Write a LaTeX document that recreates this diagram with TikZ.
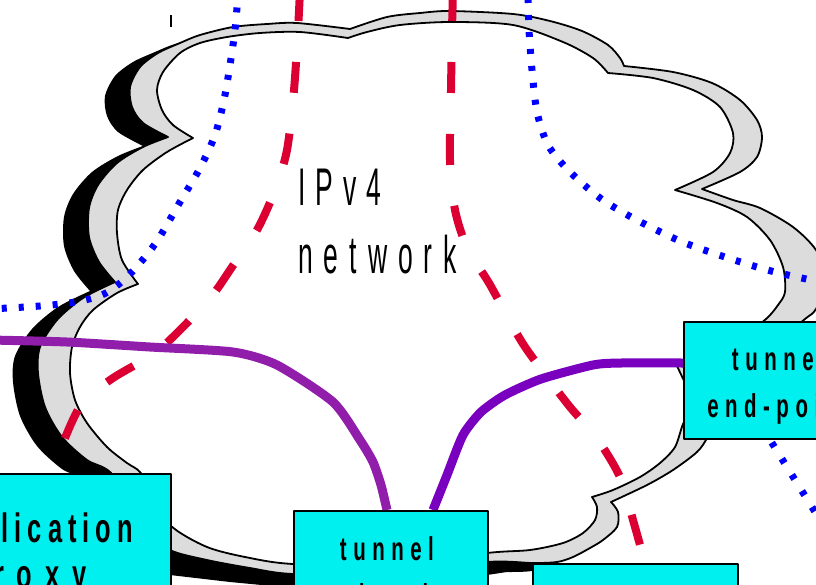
\documentclass[tikz,border=0pt]{standalone}
\usepackage{fontspec}
\setmainfont{Liberation Sans}
\newfontfamily\cloudfont[FakeStretch=0.5]{Liberation Sans}
\newfontfamily\boxfont[FakeStretch=0.62]{Liberation Sans}
\usetikzlibrary{calc}
\definecolor{cyanbox}{RGB}{0,240,240}
\definecolor{cloudgray}{RGB}{220,220,220}
\definecolor{redline}{RGB}{220,0,50}
\definecolor{purpleA}{RGB}{145,30,170}
\definecolor{purpleB}{RGB}{120,0,190}
\makeatletter
\newcommand\spaced[2]{\def\spc@sk{\hskip #1\relax}\spc@loop#2\@nil\unskip}
\def\spc@loop#1{\ifx\@nil#1\else#1\spc@sk\expandafter\spc@loop\fi}
\makeatother
\def\outerpath{plot[smooth] coordinates {(168,137) (143,123) (132,107) (130,87) (140,67) (158,53) (180,43) (200,35) (233,27) (267,24) (297,23) (350,29)}
 -- plot[smooth] coordinates {(350,29) (387,17) (420,13) (450,11) (513,14) (550,21) (582,31) (608,45) (620,58) (624,66)}
 -- plot[smooth] coordinates {(624,66) (673,72) (712,83) (740,100) (757,120) (762,137) (757,157) (740,172) (702,189)}
 -- plot[smooth] coordinates {(702,189) (733,200) (760,208) (793,227) (816,250) (828,280) (816,309) (805,319) (775,343) (740,365) (702,380)}
 -- plot[smooth] coordinates {(702,380) (712,400) (714,420) (707,438) (697,452) (673,470) (647,485) (611,502)}
 -- plot[smooth] coordinates {(611,502) (618,512) (617,527) (603,540) (590,548) (573,557) (557,562) (533,563) (487,562) (390,574) (293,574) (250,568) (207,560) (170,550) (150,530)}
 -- plot[smooth] coordinates {(140,510) (110,472) (87,460) (62,437) (45,407) (38,373) (40,347) (57,320) (83,298) (115,282)}
 -- plot[smooth] coordinates {(115,282) (99,262) (89,237) (89,208) (98,185) (117,163) (143,147) (168,137)} -- cycle}
\def\innerpath{plot[smooth] coordinates {(193,138) (173,125) (162,110) (157,90) (163,72) (180,53) (200,43) (227,37) (260,33) (300,32) (348,38)}
 -- plot[smooth] coordinates {(348,38) (367,32) (400,25) (450,22) (513,25) (563,42) (593,58) (608,73)}
 -- plot[smooth] coordinates {(608,73) (653,78) (693,90) (720,107) (733,133) (730,153) (713,172) (675,190)}
 -- plot[smooth] coordinates {(675,190) (717,203) (747,217) (770,240) (783,267) (785,292) (778,305) (766,319) (740,338) (705,355) (677,366)}
 -- plot[smooth] coordinates {(677,366) (686,385) (694,402) (690,414) (683,424) (675,447) (660,463) (640,477) (613,490) (592,497)}
 -- plot[smooth] coordinates {(592,497) (597,507) (595,520) (583,533) (563,543) (530,550) (487,553) (390,566) (293,564) (250,558) (207,547) (170,525) (155,495)}
 -- plot[smooth] coordinates {(155,495) (140,472) (127,463) (107,447) (87,423) (75,400) (70,373) (72,347) (80,327) (93,310) (117,293) (138,284)}
 -- plot[smooth] coordinates {(138,284) (122,260) (117,233) (118,210) (127,190) (143,170) (167,152) (193,138)} -- cycle}
\begin{document}
\begin{tikzpicture}[x=1pt,y=-1pt,line join=round,
  cbox/.style={draw=black,fill=cyanbox,line width=1.8,rectangle,inner sep=0,anchor=north west},
  boxtext/.style={inner sep=0,anchor=base,font=\boxfont\bfseries\fontsize{33}{36}\selectfont},
  apptext/.style={inner sep=0,anchor=base east,font=\boxfont\bfseries\fontsize{41}{44}\selectfont},
  cloudtext/.style={inner sep=0,anchor=base west,font=\cloudfont\fontsize{53}{60}\selectfont},
  outline/.style={draw=black,line width=1.8},
  bluedots/.style={blue,line width=7,dash pattern=on 5 off 12},
  reddash/.style={redline,line width=8,dash pattern=on 31 off 41},
  pipe/.style={line width=9,line cap=butt}]
\useasboundingbox (0,0) rectangle (816,584);
\clip (0,0) rectangle (816,584);
% cloud: shadow, grey rim, white inside
\fill[black,shift={(-25,9)}] \outerpath;
\fill[black] (140,530) -- (540,540) -- (540,567) -- (487,575) -- (390,592) -- (293,588) -- (230,582) -- (170,575) -- (140,565) -- cycle;
\filldraw[fill=cloudgray,outline] \outerpath;
\filldraw[fill=white,outline] \innerpath;
\draw[line width=1.5] (171,15) -- (171,27);
% boxes (named first, drawn later on top)
\path node[cbox,minimum width=196,minimum height=117,draw=none,fill=none] (rbox) at (683,321) {}
      node[cbox,minimum width=194,minimum height=117,draw=none,fill=none] (tbox) at (293,510) {}
      node[cbox,minimum width=205,minimum height=117,draw=none,fill=none] (brbox) at (532,563) {}
      node[cbox,minimum width=260,minimum height=140,draw=none,fill=none] (abox) at (-90,473) {};
\coordinate (bl) at (238,-5);
\coordinate (bltip) at (-10,309);
\coordinate (br) at (528,-5);
\coordinate (brtip) at (830,284);
\coordinate (bd) at (840,552);
\coordinate (ra) at (300,-10);
\coordinate (rb) at (453,-10);
\coordinate (pa) at (-10,340);
% dotted blue lines
\draw[bluedots,dash phase=4.5] plot[smooth] coordinates {(bl) (235,30) (230,65) (224,100) (215,135) (200,168) (180,202) (155,244) (128,276) (104,294) (75,302) (40,306) (bltip)};
\draw[bluedots,dash phase=14] plot[smooth] coordinates {(br) (529,30) (532,70) (537,112) (548,145) (569,171) (600,198) (633,218) (680,241) (728,258) (775,272) (brtip)};
\draw[bluedots,dash pattern=on 5 off 14,dash phase=15.7] ($(rbox.south west)+(87,0)$) -- (bd);
% red dashed lines
\draw[reddash] plot[smooth] coordinates {(ra) (298,30) (294,90) (287,150) (275,190) (257,230) (232,267) (211,297) (177,333) (152,355) (113,378) (83,402) (65,438) (52,475) ($(abox.north west)+(136,30)$)};
\draw[reddash] plot[smooth] coordinates {(rb) (452,30) (451,90) (450,160) (455,210) (468,250) (489,283) (520,339) (541,369) (570,407) (596,437) (620,477) (633,520) ($(brbox.north west)+(113,0)$)};
% purple tunnels
\draw[pipe,purpleA] plot[smooth,tension=0.4] coordinates {(pa) (67,342) (150,347) (233,352) (277,365) (333,402) (360,440) (373,462) (381,485) ($(tbox.north west)+(94,0)$)};
\draw[pipe,purpleB] plot[smooth,tension=0.4] coordinates {($(tbox.north west)+(140,0)$) (447,475) (463,435) (481,412) (505,395) (541,379) (593,365) (621,363) ($(rbox.north west)+(0,42)$)};
% boxes on top
\node[cbox,minimum width=196,minimum height=117] at (rbox.north west) {};
\node[cbox,minimum width=194,minimum height=117] at (tbox.north west) {};
\node[cbox,minimum width=205,minimum height=117] at (brbox.north west) {};
\node[cbox,minimum width=260,minimum height=140] at (abox.north west) {};
% texts
\node[cloudtext] (t1) at (298,205) {\spaced{10pt}{IPv4}};
\node[cloudtext] (t2) at (298,273) {\spaced{11pt}{network}};
\node[boxtext] (r1) at ($(rbox.north)+(-3,49)$) {\spaced{6.5pt}{tunnel}};
\node[boxtext] (r2) at ($(rbox.north)+(-2,96)$) {\spaced{6.5pt}{end-point}};
\node[boxtext] (b1) at ($(tbox.north)+(-4,50)$) {\spaced{6.5pt}{tunnel}};
\node[boxtext] (b2) at ($(tbox.north)+(-3,97)$) {\spaced{6.5pt}{end-point}};
\node[apptext] (a1) at (133,542) {\spaced{6pt}{application}};
\node[apptext] (a2) at (87,588) {\spaced{13pt}{proxy}};
\end{tikzpicture}
\end{document}
